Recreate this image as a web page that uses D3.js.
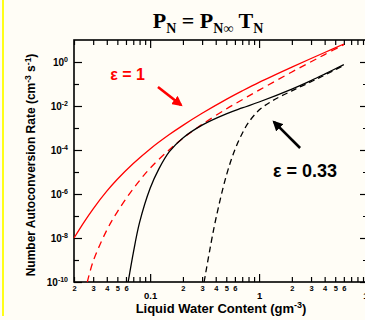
<!DOCTYPE html>
<html>
<head>
<meta charset="utf-8">
<script src="https://cdn.jsdelivr.net/npm/d3@7"></script>
<style>
body { margin: 0; background: #fffdf6; }
svg { display: block; font-family: "Liberation Sans", Arial, sans-serif; font-weight: bold; }
</style>
</head>
<body>
<svg id="chart" width="365" height="320"></svg>
<script>
// liquid water content (g m^-3) vs number autoconversion rate (cm^-3 s^-1)
var redSolidLwc = [0.02, 0.025, 0.03, 0.04, 0.05, 0.07, 0.1, 0.15, 0.2, 0.3, 0.5, 0.7, 1, 2, 3, 4, 6];
var redSolidRate = [1e-8, 5.71e-8, 2.12e-7, 1.34e-6, 4.67e-6, 2.42e-5, 1.12e-4, 5.04e-4, 1.32e-3, 4.65e-3, 0.020, 0.0486, 0.119, 0.585, 1.44, 2.71, 6.56];

var redDashLwc = [0.0265, 0.03, 0.04, 0.05, 0.07, 0.1, 0.15, 0.2, 0.3, 0.5, 0.7, 1, 2, 3, 4, 6];
var redDashRate = [1e-10, 8.8e-10, 2.28e-8, 1.55e-7, 1.75e-6, 1.49e-5, 1.04e-4, 3.39e-4, 1.46e-3, 7.3e-3, 0.0193, 0.0525, 0.353, 1.03, 2.18, 6.14];

var blackSolidLwc = [0.0628, 0.065, 0.07, 0.08, 0.1, 0.12, 0.15, 0.2, 0.3, 0.5, 0.7, 1, 2, 3, 4, 6];
var blackSolidRate = [1e-10, 2.63e-10, 2.07e-9, 5.1e-8, 1.82e-6, 1.35e-5, 8.4e-5, 3.54e-4, 1.35e-3, 4.38e-3, 8.15e-3, 0.0152, 0.0587, 0.143, 0.282, 0.76];

var blackDashLwc = [0.313, 0.32, 0.35, 0.4, 0.5, 0.6, 0.7, 0.8, 1, 1.3, 2, 3, 4, 6];
var blackDashRate = [1e-10, 1.86e-10, 2.3e-9, 6.93e-8, 6.76e-6, 1.035e-4, 5.65e-4, 1.78e-3, 6.52e-3, 0.0163, 0.049, 0.127, 0.254, 0.698];

var xMajorTicks = [0.1, 1, 10];
var xMajorLabels = ['0.1', '1', '10'];
var xMinorTicks = [0.02, 0.03, 0.04, 0.05, 0.06, 0.07, 0.08, 0.09,
    0.2, 0.3, 0.4, 0.5, 0.6, 0.7, 0.8, 0.9,
    2, 3, 4, 5, 6, 7, 8, 9];
var xMinorLabelDigits = [2, 3, 4, 5, 6];
var yMajorTicks = [1e-10, 1e-8, 1e-6, 1e-4, 1e-2, 1];
var yMinorTicks = [1e-9, 1e-7, 1e-5, 1e-3, 1e-1];

(function() {
    var svg = d3.select('#chart');
    var pLeft = 74, pRight = 368, pTop = 40, pBottom = 282;

    var x = d3.scaleLog().domain([0.02, 10]).range([pLeft, pRight]);
    var y = d3.scaleLog().domain([1e-10, 10]).range([pBottom, pTop]);

    // yellow border line at far left
    svg.append('line')
        .attr('x1', 3).attr('x2', 3).attr('y1', 0).attr('y2', 316)
        .attr('stroke', '#ffff00').attr('stroke-width', 1.8);

    var leadDigit = function(d) {
        return Math.round(d / Math.pow(10, Math.floor(Math.log10(d) + 1e-9)));
    };

    var styleAxis = function(g) {
        g.select('.domain').remove();
        g.selectAll('.tick line').attr('stroke', '#000').attr('stroke-width', 1.2);
        g.selectAll('.tick text').attr('fill', '#000');
        g.attr('font-family', null);
    };

    // bottom axis
    svg.append('g')
        .attr('transform', 'translate(0,' + pBottom + ')')
        .call(d3.axisBottom(x).tickValues(xMinorTicks).tickSize(-5).tickPadding(4)
            .tickFormat(function(d) {
                var k = leadDigit(d);
                return xMinorLabelDigits.indexOf(k) >= 0 ? k : '';
            }))
        .call(styleAxis)
        .attr('font-size', 7.5);

    svg.append('g')
        .attr('transform', 'translate(0,' + pBottom + ')')
        .call(d3.axisBottom(x).tickValues(xMajorTicks).tickSize(-8).tickPadding(10)
            .tickFormat(function(d, i) { return xMajorLabels[i]; }))
        .call(styleAxis)
        .attr('font-size', 9.5);

    // top axis
    svg.append('g')
        .attr('transform', 'translate(0,' + pTop + ')')
        .call(d3.axisTop(x).tickValues(xMinorTicks).tickSize(-5).tickFormat(''))
        .call(styleAxis);
    svg.append('g')
        .attr('transform', 'translate(0,' + pTop + ')')
        .call(d3.axisTop(x).tickValues(xMajorTicks).tickSize(-8).tickFormat(''))
        .call(styleAxis);

    // left axis
    var yLeft = svg.append('g')
        .attr('transform', 'translate(' + pLeft + ',0)')
        .call(d3.axisLeft(y).tickValues(yMajorTicks).tickSize(-8).tickPadding(6).tickFormat(''))
        .call(styleAxis)
        .attr('font-size', 10);

    yLeft.selectAll('.tick text').each(function(d) {
        var t = d3.select(this);
        t.append('tspan').text('10');
        t.append('tspan').attr('dy', -4).attr('font-size', 7).text(Math.round(Math.log10(d)));
    });

    svg.append('g')
        .attr('transform', 'translate(' + pLeft + ',0)')
        .call(d3.axisLeft(y).tickValues(yMinorTicks).tickSize(-5).tickFormat(''))
        .call(styleAxis);

    // right axis
    svg.append('g')
        .attr('transform', 'translate(' + pRight + ',0)')
        .call(d3.axisRight(y).tickValues(yMajorTicks).tickSize(-8).tickFormat(''))
        .call(styleAxis);
    svg.append('g')
        .attr('transform', 'translate(' + pRight + ',0)')
        .call(d3.axisRight(y).tickValues(yMinorTicks).tickSize(-5).tickFormat(''))
        .call(styleAxis);

    // frame
    svg.append('rect')
        .attr('x', pLeft).attr('y', pTop)
        .attr('width', pRight - pLeft).attr('height', pBottom - pTop)
        .attr('fill', 'none').attr('stroke', '#000').attr('stroke-width', 1.6);

    // curves
    var line = d3.line()
        .x(function(d) { return x(d[0]); })
        .y(function(d) { return y(d[1]); })
        .curve(d3.curveCatmullRom);

    var series = [
        { lwc: redSolidLwc, rate: redSolidRate, color: '#ff0000', dash: null },
        { lwc: redDashLwc, rate: redDashRate, color: '#ff0000', dash: '7,5' },
        { lwc: blackSolidLwc, rate: blackSolidRate, color: '#000', dash: null },
        { lwc: blackDashLwc, rate: blackDashRate, color: '#000', dash: '6,4' }
    ];

    svg.selectAll('path.curve')
        .data(series)
        .enter()
        .append('path')
        .attr('class', 'curve')
        .attr('fill', 'none')
        .attr('stroke', function(d) { return d.color; })
        .attr('stroke-width', 1.3)
        .attr('stroke-dasharray', function(d) { return d.dash; })
        .attr('d', function(d) {
            return line(d.lwc.map(function(v, i) { return [v, d.rate[i]]; }));
        });

    // arrows
    var defs = svg.append('defs');
    ['red', 'black'].forEach(function(c) {
        defs.append('marker')
            .attr('id', 'head-' + c)
            .attr('viewBox', '0 0 10 10')
            .attr('refX', 8).attr('refY', 5)
            .attr('markerWidth', 4).attr('markerHeight', 4)
            .attr('orient', 'auto')
            .append('path')
            .attr('d', 'M0,0L10,5L0,10z')
            .attr('fill', c === 'red' ? '#ff0000' : '#000');
    });

    var arrows = [
        { from: [0.118, 0.073], to: [0.192, 0.011], c: 'red' },
        { from: [2.38, 1.23e-4], to: [1.37, 1.9e-3], c: 'black' }
    ];
    svg.selectAll('line.arrow')
        .data(arrows)
        .enter()
        .append('line')
        .attr('class', 'arrow')
        .attr('x1', function(d) { return x(d.from[0]); })
        .attr('y1', function(d) { return y(d.from[1]); })
        .attr('x2', function(d) { return x(d.to[0]); })
        .attr('y2', function(d) { return y(d.to[1]); })
        .attr('stroke', function(d) { return d.c === 'red' ? '#ff0000' : '#000'; })
        .attr('stroke-width', 2.6)
        .attr('marker-end', function(d) { return 'url(#head-' + d.c + ')'; });

    svg.append('text')
        .attr('x', x(0.043)).attr('y', y(0.152))
        .attr('fill', '#ff0000').attr('font-size', 16)
        .text('ε = 1');

    svg.append('text')
        .attr('x', x(1.34)).attr('y', y(5.9e-6))
        .attr('fill', '#000').attr('font-size', 18)
        .text('ε = 0.33');

    // title
    var title = svg.append('text')
        .attr('x', 208).attr('y', 28)
        .attr('text-anchor', 'middle')
        .attr('font-family', '"Liberation Serif", "Times New Roman", serif')
        .attr('font-size', 22)
        .style('white-space', 'pre');
    title.append('tspan').text('P');
    title.append('tspan').attr('dy', 5).attr('font-size', 14).text('N');
    title.append('tspan').attr('dy', -5).text(' = P');
    title.append('tspan').attr('dy', 5).attr('font-size', 14).text('N∞');
    title.append('tspan').attr('dy', -5).text(' T');
    title.append('tspan').attr('dy', 5).attr('font-size', 14).text('N');

    // axis titles
    var xt = svg.append('text')
        .attr('x', 221).attr('y', 313)
        .attr('text-anchor', 'middle')
        .attr('font-size', 13)
        .style('white-space', 'pre');
    xt.append('tspan').text('Liquid Water Content (gm');
    xt.append('tspan').attr('dy', -5).attr('font-size', 9).text('-3');
    xt.append('tspan').attr('dy', 5).text(')');

    var yt = svg.append('text')
        .attr('transform', 'translate(35,165) rotate(-90)')
        .attr('text-anchor', 'middle')
        .attr('font-size', 12)
        .style('white-space', 'pre');
    yt.append('tspan').text('Number Autoconversion Rate (cm');
    yt.append('tspan').attr('dy', -4).attr('font-size', 8.5).text('-3');
    yt.append('tspan').attr('dy', 4).text(' s');
    yt.append('tspan').attr('dy', -4).attr('font-size', 8.5).text('-1');
    yt.append('tspan').attr('dy', 4).text(')');
})();
</script>
</body>
</html>
